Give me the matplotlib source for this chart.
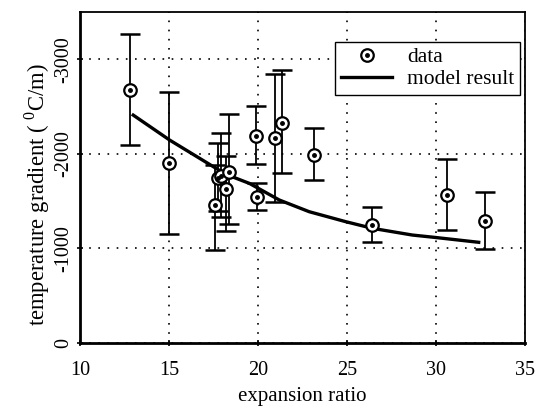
import matplotlib
matplotlib.use('Agg')
import matplotlib.pyplot as plt
from matplotlib.legend_handler import HandlerTuple

plt.rcParams['font.family'] = ['Liberation Serif', 'DejaVu Serif']
plt.rcParams['mathtext.fontset'] = 'custom'
plt.rcParams['mathtext.rm'] = 'Liberation Serif'

# measured data (expansion ratio vs temperature gradient, C/m)
ratio = [12.8, 15.0, 17.6, 17.75, 17.94, 18.18, 18.37, 19.86, 19.92, 20.94, 21.35, 23.15, 26.43, 30.63, 32.73]
grad = [-2680, -1905, -1460, -1740, -1760, -1625, -1810, -2190, -1545, -2170, -2330, -1990, -1245, -1565, -1285]
err_hi = [-3268, -2657, -1940, -2090, -2190, -2070, -2360, -2491, -1682, -2852, -2862, -2262, -1422, -1940, -1580]
err_lo = [-2092, -1157, -1043, -1370, -1300, -1270, -1200, -1873, -1404, -1499, -1774, -1710, -1055, -1181, -972]

# model curve
model_x = [12.99, 15.04, 18.2, 19.52, 21.2, 22.88, 24.94, 26.43, 28.67, 29.93, 32.4]
model_y = [-2410, -2145, -1782, -1686, -1510, -1386, -1280, -1210, -1139, -1114, -1062]

x_ticks = [10, 15, 20, 25, 30, 35]
y_ticks = [0, -1000, -2000, -3000]

fig = plt.figure(figsize=(5.42, 4.08), dpi=100)
ax = fig.add_axes([0.1476, 0.1605, 0.821, 0.8095])

# error bars: distance from the point to each end
yerr = [[abs(g - lo) for g, lo in zip(grad, err_lo)],
        [abs(hi - g) for g, hi in zip(grad, err_hi)]]
ax.errorbar(ratio, grad, yerr=yerr, fmt='none', ecolor='black',
            elinewidth=1.3, capsize=7, capthick=1.8, zorder=3)

line, = ax.plot(model_x, model_y, color='black', lw=2.4, zorder=4)
ring, = ax.plot(ratio, grad, ls='none', marker='o', ms=9, mfc='white',
                mec='black', mew=1.6, zorder=5)
dot, = ax.plot(ratio, grad, ls='none', marker='o', ms=2.5, color='black', zorder=6)

ax.set_xlim(10, 35)
ax.set_ylim(0, -3500)
ax.set_xticks(x_ticks)
ax.set_yticks(y_ticks)
ax.set_yticklabels([str(v) for v in y_ticks], rotation=90, va='center')

ax.grid(True, color='black', linestyle=(0, (1, 4.5)), lw=1.2)
ax.set_axisbelow(True)

ax.tick_params(direction='inout', length=5, width=1.2, labelsize=14.5)
ax.tick_params(axis='x', pad=11)
ax.tick_params(axis='y', pad=2)
for s in ['left', 'bottom']:
    ax.spines[s].set_linewidth(2)
for s in ['top', 'right']:
    ax.spines[s].set_linewidth(1.3)

ax.set_xlabel('expansion ratio', fontsize=15, labelpad=5)
ax.set_ylabel(r'temperature gradient ( $^{0}$C/m)', fontsize=16.3)
ax.yaxis.set_label_coords(-0.064, 0.447)

leg = ax.legend([(ring, dot), line], ['data', 'model result'],
                handler_map={tuple: HandlerTuple(ndivide=1)},
                numpoints=1, loc='upper right', bbox_to_anchor=(0.989, 0.911),
                borderaxespad=0, fontsize=15.5, handlelength=2.4,
                fancybox=False, framealpha=1, edgecolor='black',
                borderpad=0.25, labelspacing=0.1, handletextpad=0.7)
leg.get_frame().set_linewidth(1)

fig.savefig('out.png', dpi=100)
